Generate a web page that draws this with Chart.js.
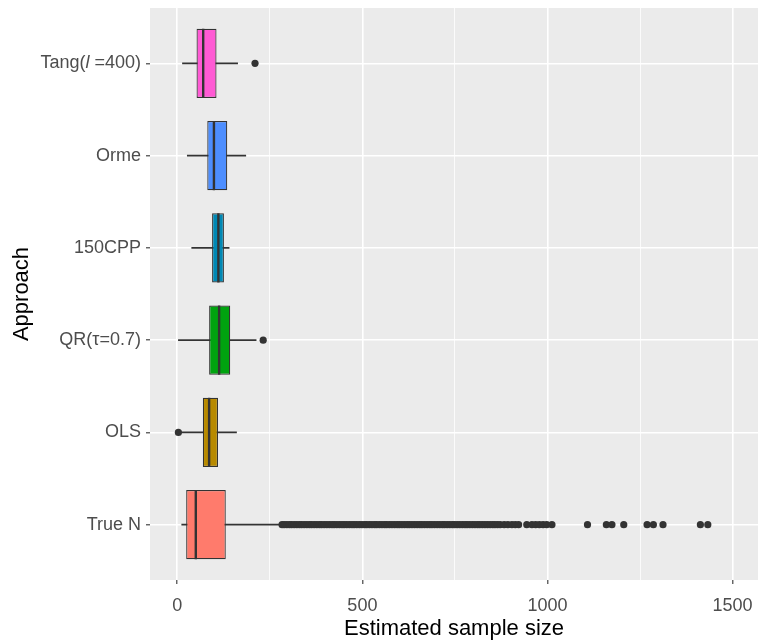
<!DOCTYPE html>
<html>
<head>
<meta charset="utf-8">
<title>Estimated sample size by approach</title>
<script src="https://cdn.jsdelivr.net/npm/chart.js@4.4.0/dist/chart.umd.min.js"></script>
<style>
    html, body { margin: 0; padding: 0; background: #ffffff; overflow: hidden; }
    #wrap { width: 758px; height: 640px; overflow: hidden; }
    /* chart.js keeps a few px free on the right, so the box is a bit wider and clipped */
    #box { width: 762px; height: 640px; }
</style>
</head>
<body>
<div id="wrap"><div id="box"><canvas id="boxChart"></canvas></div></div>
<script>
// Approaches, bottom to top (y position 1..6)
const APPROACHES = ['True N', 'OLS', 'QR(\u03c4=0.7)', '150CPP', 'Orme', 'Tang(l =400)'];
const BOX_COLORS = ['#FF7B6C', '#B88A00', '#00A30F', '#0088B4', '#4D8EFF', '#FF5AD4'];

// Box statistics
const WHISKER_LO = [12, 10, 3, 39, 27, 14];
const Q1 = [24, 69, 86, 94, 81, 52];
const MEDIAN = [50, 86, 113, 111, 99, 70];
const Q3 = [131, 110, 143, 126, 135, 106];
const WHISKER_HI = [282, 160, 213, 140, 185, 163];

// Outliers
const OUTLIERS_TRUE_N = [
    283, 289, 296, 303, 309, 316, 323, 330, 336, 343, 350, 357, 363, 370, 377,
    384, 390, 397, 404, 411, 418, 424, 431, 438, 445, 451, 458, 465, 472, 478,
    485, 492, 499, 506, 512, 519, 526, 533, 539, 546, 553, 560, 566, 573, 580,
    587, 594, 600, 607, 614, 621, 627, 634, 641, 648, 655, 661, 668, 675, 682,
    688, 695, 702, 709, 716, 722, 729, 736, 743, 749, 756, 763, 770, 777, 783,
    790, 797, 804, 811, 817, 824, 831, 838, 845, 852, 858, 865, 872,
    883, 893, 904, 913, 922, 944, 958, 968, 978, 988, 998, 1012,
    1108, 1159, 1174, 1206, 1269, 1286, 1312, 1413, 1433
];
const OUTLIERS_OLS = [3];
const OUTLIERS_QR = [232];
const OUTLIERS_TANG = [210];

// Axis range and grid
const X_MIN = -73.7;
const X_MAX = 1568.6;
const X_MAJOR = [0, 500, 1000, 1500];
const X_GRID = [0, 250, 500, 750, 1000, 1250, 1500];

const FONT = "'Liberation Sans', Arial, sans-serif";
const TICK_GRAY = '#4D4D4D';

Chart.defaults.font.family = FONT;

function outlierPoints() {
    const pts = [];
    OUTLIERS_TRUE_N.forEach(v => pts.push({ x: v, y: 1 }));
    OUTLIERS_OLS.forEach(v => pts.push({ x: v, y: 2 }));
    OUTLIERS_QR.forEach(v => pts.push({ x: v, y: 3 }));
    OUTLIERS_TANG.forEach(v => pts.push({ x: v, y: 6 }));
    return pts;
}

// Grey panel behind the grid
const panelBackground = {
    id: 'panelBackground',
    beforeDraw(chart) {
        const { ctx, chartArea: a } = chart;
        ctx.save();
        ctx.fillStyle = '#EBEBEB';
        ctx.fillRect(a.left, a.top, a.right - a.left, a.bottom - a.top);
        ctx.restore();
    }
};

// Median lines on top of the boxes
const medianLines = {
    id: 'medianLines',
    afterDatasetsDraw(chart) {
        const ctx = chart.ctx;
        const xScale = chart.scales.x;
        const meta = chart.getDatasetMeta(1);
        ctx.save();
        ctx.strokeStyle = '#333333';
        ctx.lineWidth = 2.4;
        meta.data.forEach((bar, i) => {
            const { y, height } = bar.getProps(['y', 'height'], true);
            const px = xScale.getPixelForValue(MEDIAN[i]);
            ctx.beginPath();
            ctx.moveTo(px, y - height / 2);
            ctx.lineTo(px, y + height / 2);
            ctx.stroke();
        });
        ctx.restore();
    }
};

// Tang label has an italic l, so it is written here
const tangLabel = {
    id: 'tangLabel',
    afterDraw(chart) {
        const ctx = chart.ctx;
        const yScale = chart.scales.y;
        const y = yScale.getPixelForValue(6);
        const right = yScale.right - 4 - 5;
        const parts = [
            ['Tang(', 'normal'],
            ['l', 'italic'],
            [' =400)', 'normal']
        ];
        ctx.save();
        ctx.fillStyle = TICK_GRAY;
        ctx.textBaseline = 'middle';
        ctx.textAlign = 'left';
        let total = 0;
        parts.forEach(([t, style]) => {
            ctx.font = `${style} 18px ${FONT}`;
            total += ctx.measureText(t).width;
        });
        let x = right - total;
        parts.forEach(([t, style]) => {
            ctx.font = `${style} 18px ${FONT}`;
            ctx.fillText(t, x, y);
            x += ctx.measureText(t).width;
        });
        ctx.restore();
    }
};

const ctx = document.getElementById('boxChart').getContext('2d');
new Chart(ctx, {
    type: 'bar',
    data: {
        datasets: [
            {
                type: 'scatter',
                data: outlierPoints(),
                pointRadius: 3.6,
                pointBackgroundColor: '#333333',
                pointBorderWidth: 0
            },
            {
                type: 'bar',
                data: APPROACHES.map((_, i) => ({ x: [Q1[i], Q3[i]], y: i + 1 })),
                backgroundColor: BOX_COLORS,
                borderColor: '#333333',
                borderWidth: 1.2,
                borderSkipped: false,
                barPercentage: 0.75,
                categoryPercentage: 1,
                grouped: false
            },
            {
                type: 'bar',
                data: APPROACHES.map((_, i) => ({ x: [WHISKER_LO[i], WHISKER_HI[i]], y: i + 1 })),
                backgroundColor: '#333333',
                borderWidth: 0,
                barThickness: 1.2,
                grouped: false
            }
        ]
    },
    options: {
        indexAxis: 'y',
        responsive: true,
        maintainAspectRatio: false,
        animation: false,
        layout: { padding: { left: 0, top: 8, right: 0, bottom: 0 } },
        plugins: {
            legend: { display: false },
            tooltip: { enabled: false }
        },
        scales: {
            x: {
                type: 'linear',
                position: 'bottom',
                min: X_MIN,
                max: X_MAX,
                offset: false,
                afterBuildTicks: s => { s.ticks = X_GRID.map(v => ({ value: v })); },
                afterFit: s => {
                    s.height = 60;
                    s.paddingLeft = 0;
                    s.paddingRight = 0;
                },
                border: { display: false },
                grid: {
                    offset: false,
                    color: '#FFFFFF',
                    lineWidth: c => (X_MAJOR.includes(c.tick.value) ? 1.6 : 0.8),
                    drawTicks: true,
                    tickLength: 4,
                    tickWidth: 1.1,
                    tickColor: c => (X_MAJOR.includes(c.tick.value) ? '#333333' : 'rgba(0,0,0,0)')
                },
                ticks: {
                    color: TICK_GRAY,
                    font: { size: 18 },
                    padding: 11,
                    autoSkip: false,
                    maxRotation: 0,
                    callback: v => (X_MAJOR.includes(v) ? String(v) : '')
                },
                title: {
                    display: true,
                    text: 'Estimated sample size',
                    color: '#000000',
                    font: { size: 22 },
                    padding: { top: 0, bottom: -2 }
                }
            },
            y: {
                type: 'linear',
                min: 0.4,
                max: 6.6,
                offset: false,
                afterBuildTicks: s => { s.ticks = APPROACHES.map((_, i) => ({ value: i + 1 })); },
                afterFit: s => {
                    s.width = 150;
                    s.paddingTop = 0;
                    s.paddingBottom = 0;
                },
                border: { display: false },
                grid: {
                    offset: false,
                    color: '#FFFFFF',
                    lineWidth: 1.6,
                    drawTicks: true,
                    tickLength: 4,
                    tickWidth: 1.1,
                    tickColor: '#333333'
                },
                ticks: {
                    color: TICK_GRAY,
                    font: { size: 18 },
                    padding: 5,
                    autoSkip: false,
                    callback: v => (v === 6 ? '' : APPROACHES[v - 1])
                },
                title: {
                    display: true,
                    text: 'Approach',
                    color: '#000000',
                    font: { size: 22 },
                    padding: { top: 9, bottom: 0 }
                }
            }
        }
    },
    plugins: [panelBackground, medianLines, tangLabel]
});
</script>
</body>
</html>
